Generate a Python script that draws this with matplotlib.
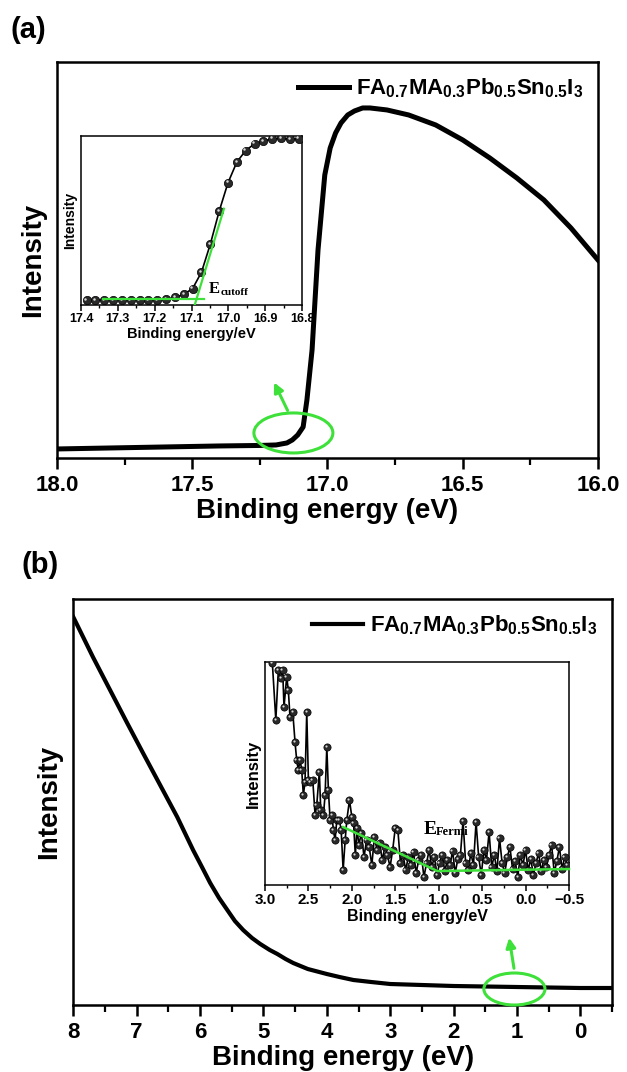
import matplotlib
matplotlib.use("Agg")
import matplotlib.pyplot as plt
from matplotlib.patches import Ellipse
from matplotlib.ticker import MultipleLocator
from matplotlib.transforms import offset_copy

plt.rcParams['font.family'] = ['Liberation Sans', 'DejaVu Sans']
plt.rcParams['font.weight'] = 'bold'
plt.rcParams['mathtext.fontset'] = 'custom'
plt.rcParams['mathtext.bf'] = 'Liberation Sans:bold'
plt.rcParams['mathtext.rm'] = 'Liberation Sans:bold'
plt.rcParams['mathtext.default'] = 'bf'

GREEN = '#3ee03a'
LABEL = r'$\mathbf{FA_{0.7}MA_{0.3}Pb_{0.5}Sn_{0.5}I_{3}}$'

# (a) secondary electron cutoff, main spectrum
cut_energy = [18.0, 17.8, 17.6, 17.4, 17.25, 17.19, 17.15, 17.13, 17.11, 17.09,
              17.076, 17.057, 17.035, 17.01, 16.99, 16.97, 16.95, 16.925, 16.9,
              16.87, 16.843, 16.78, 16.7, 16.6, 16.5, 16.4, 16.3, 16.2, 16.1, 16.0]
cut_counts = [9, 10, 11, 12, 12.5, 13, 15, 18, 23, 31,
              58, 108, 208, 283, 310, 325, 335, 343, 347,
              350, 350, 348, 343, 333, 318, 300, 280, 258, 230, 198]

# (a) inset, zoom on the onset
onset_energy = [17.385, 17.361, 17.337, 17.313, 17.289, 17.265, 17.241, 17.217,
                17.193, 17.169, 17.145, 17.121, 17.097, 17.073, 17.049, 17.025,
                17.001, 16.977, 16.953, 16.929, 16.905, 16.881, 16.857, 16.833,
                16.809]
onset_counts = [0, 0, 0, 0, 0, 0, 0, 0,
                0, 0.004, 0.016, 0.035, 0.071, 0.171, 0.343, 0.545,
                0.720, 0.847, 0.918, 0.959, 0.976, 0.990, 0.992, 0.988,
                0.990]

# (b) valence band region, main spectrum
vb_energy = [8.0, 7.69, 7.42, 7.15, 6.90, 6.63, 6.36, 6.11, 5.97, 5.84, 5.70,
             5.57, 5.45, 5.32, 5.18, 5.05, 4.90, 4.78, 4.65, 4.53, 4.30, 4.0,
             3.80, 3.58, 3.30, 3.0, 2.5, 2.0, 1.0, 0.0, -0.5]
vb_counts = [388, 348, 315, 282, 252, 220, 188, 155, 138, 122, 107,
             95, 84, 75, 67, 61, 55, 51, 46, 42, 36, 31,
             28, 25, 23, 21, 20, 19, 18, 17, 17]

# (b) inset, zoom near the Fermi level
fermi_energy = [2.97, 2.94, 2.915, 2.875, 2.846, 2.815, 2.796, 2.781, 2.75, 2.731,
                2.712, 2.68, 2.654, 2.635, 2.616, 2.596, 2.577, 2.558, 2.539, 2.519,
                2.50, 2.48, 2.45, 2.423, 2.404, 2.374, 2.358, 2.327, 2.308, 2.288,
                2.27, 2.25, 2.23, 2.212, 2.193, 2.173, 2.143, 2.123, 2.10, 2.077,
                2.058, 2.027, 2.0, 1.98, 1.96, 1.94,
                1.92, 1.89, 1.86, 1.83, 1.80, 1.77, 1.74, 1.71, 1.68, 1.65,
                1.62, 1.59, 1.56, 1.53, 1.50, 1.47, 1.44, 1.41, 1.38, 1.35,
                1.32, 1.29, 1.26, 1.23, 1.20, 1.17, 1.14, 1.11, 1.08, 1.05,
                1.02, 0.99, 0.96, 0.93, 0.90, 0.87, 0.84, 0.81, 0.78, 0.75,
                0.72, 0.69, 0.66, 0.63, 0.60, 0.57, 0.54, 0.51, 0.48, 0.45,
                0.42, 0.39, 0.36, 0.33, 0.30, 0.27, 0.24, 0.21, 0.18, 0.15,
                0.12, 0.09, 0.06, 0.03, 0.00, -0.03, -0.06, -0.09, -0.12, -0.15,
                -0.18, -0.21, -0.24, -0.27, -0.30, -0.33, -0.36, -0.39, -0.42, -0.45,
                -0.48]
fermi_counts = [250, 235, 222, 165, 215, 207, 215, 178, 208, 195,
                168, 173, 143, 125, 115, 125, 115, 90, 103, 173,
                105, 103, 105, 70, 80, 113, 75, 70, 90, 138,
                95, 65, 70, 55, 45, 65, 65, 55, 15, 45,
                65, 85, 68, 62, 30, 57,
                40, 52, 28, 45, 38, 20, 48, 35, 42, 25,
                38, 30, 18, 35, 57, 55, 22, 30, 15, 28,
                20, 33, 12, 25, 30, 8, 22, 35, 18, 28,
                10, 22, 30, 14, 25, 20, 34, 12, 26, 30,
                64, 22, 15, 32, 20, 63, 28, 10, 35, 25,
                53, 18, 30, 14, 47, 22, 12, 28, 38, 16,
                24, 8, 30, 20, 35, 15, 26, 10, 22, 32,
                14, 25, 18, 30, 40, 12, 24, 38, 16, 28,
                20]


def style_main(ax, major, minor):
    for s in ax.spines.values():
        s.set_linewidth(1.8)
    ax.set_yticks([])
    ax.xaxis.set_major_locator(MultipleLocator(major))
    ax.xaxis.set_minor_locator(MultipleLocator(minor))
    ax.tick_params(axis='x', which='major', direction='out', length=8, width=1.8,
                   labelsize=16, pad=4)
    ax.tick_params(axis='x', which='minor', direction='out', length=5, width=1.6)
    ax.set_xlabel('Binding energy (eV)', fontsize=20, fontweight='bold', labelpad=2)
    ax.set_ylabel('Intensity', fontsize=20, fontweight='bold', labelpad=8)


def style_inset(ax, major, minor, tsize, lsize, ysize):
    for s in ax.spines.values():
        s.set_linewidth(1.1)
    ax.set_yticks([])
    ax.xaxis.set_major_locator(MultipleLocator(major))
    ax.xaxis.set_minor_locator(MultipleLocator(minor))
    ax.tick_params(axis='x', which='major', direction='out', length=4, width=1.1,
                   labelsize=tsize, pad=2)
    ax.tick_params(axis='x', which='minor', direction='out', length=2.5, width=1.0)
    ax.set_xlabel('Binding energy/eV', fontsize=lsize, fontweight='bold', labelpad=1)
    ax.set_ylabel('Intensity', fontsize=ysize, fontweight='bold', labelpad=3)


def balls(ax, x, y, ms):
    ax.plot(x, y, '-', color='black', lw=1.2, zorder=2)
    ax.plot(x, y, 'o', ms=ms, mfc='#2a2a2a', mec='black', mew=0.5, zorder=3)
    hl = offset_copy(ax.transData, fig=ax.figure, x=-0.9, y=1.0, units='points')
    ax.plot(x, y, 'o', ms=ms * 0.3, mfc='#d8d8d8', mec='none', transform=hl, zorder=4)


fig = plt.figure(figsize=(6.27, 10.72), dpi=100)

# ---------- panel (a)
ax1 = fig.add_axes([0.0909, 0.5728, 0.8628, 0.3694])
ax1.plot(cut_energy, cut_counts, color='black', lw=3.6, label=LABEL,
         solid_joinstyle='round')
ax1.set_xlim(18.0, 16.0)
ax1.set_ylim(0, 396)
style_main(ax1, 0.5, 0.25)
ax1.legend(loc='upper right', bbox_to_anchor=(1.0, 1.0), frameon=False, fontsize=16,
           handlelength=2.3, handletextpad=0.3, borderaxespad=0.25)
ax1.add_patch(Ellipse((17.126, 25), 0.292, 40, fill=False, ec=GREEN, lw=2.2,
                      clip_on=False, zorder=5))
ax1.annotate('', xy=(17.202, 78), xytext=(17.143, 45),
             arrowprops=dict(arrowstyle='-|>', color=GREEN, lw=2.2, mutation_scale=14))

ins1 = fig.add_axes([0.1292, 0.7155, 0.3525, 0.1576])
balls(ins1, onset_energy, onset_counts, 6)
ins1.plot([17.34, 17.065], [0.004, 0.004], color=GREEN, lw=1.6, zorder=5)
ins1.plot([17.092, 17.012], [-0.035, 0.561], color=GREEN, lw=1.6, zorder=5)
ins1.set_xlim(17.4, 16.8)
ins1.set_ylim(-0.03, 1.007)
style_inset(ins1, 0.1, 0.05, 9, 10.5, 10)
e1 = ins1.text(17.052, 0.045, 'E', fontsize=12, fontweight='bold',
               family='Liberation Serif', ha='left', va='baseline')
ins1.annotate('cutoff', xy=(1.0, 0.0), xycoords=e1, fontsize=8, fontweight='bold',
              family='Liberation Serif', ha='left', va='bottom')

fig.text(0.016, 0.972, '(a)', fontsize=21, fontweight='bold', va='center')

# ---------- panel (b)
ax2 = fig.add_axes([0.1169, 0.0625, 0.8592, 0.3787])
ax2.plot(vb_energy, vb_counts, color='black', lw=3.0, label=LABEL,
         solid_joinstyle='round')
ax2.set_xlim(8.0, -0.5)
ax2.set_ylim(0, 406)
style_main(ax2, 1, 0.5)
ax2.legend(loc='upper right', bbox_to_anchor=(1.0, 1.0), frameon=False, fontsize=16,
           handlelength=2.3, handletextpad=0.3, borderaxespad=0.25)
ax2.add_patch(Ellipse((1.04, 16), 0.964, 32, fill=False, ec=GREEN, lw=2.2,
                      clip_on=False, zorder=5))
ax2.annotate('', xy=(1.13, 70), xytext=(1.04, 34),
             arrowprops=dict(arrowstyle='-|>', color=GREEN, lw=2.2, mutation_scale=14))

ins2 = fig.add_axes([0.4226, 0.1744, 0.4849, 0.2080])
balls(ins2, fermi_energy, fermi_counts, 5.2)
ins2.plot([2.10, 1.016, -0.5], [58, 14, 16], color=GREEN, lw=1.8, zorder=5,
          clip_on=False)
ins2.set_xlim(3.0, -0.5)
ins2.set_ylim(0, 223)
style_inset(ins2, 0.5, 0.25, 11, 11.5, 12)
e2 = ins2.text(1.178, 51, 'E', fontsize=14, fontweight='bold',
               family='Liberation Serif', ha='left', va='baseline')
ins2.annotate('Fermi', xy=(1.0, 0.0), xycoords=e2, fontsize=9, fontweight='bold',
              family='Liberation Serif', ha='left', va='bottom')

fig.text(0.035, 0.473, '(b)', fontsize=21, fontweight='bold', va='center')

fig.savefig('out.png', dpi=100)
